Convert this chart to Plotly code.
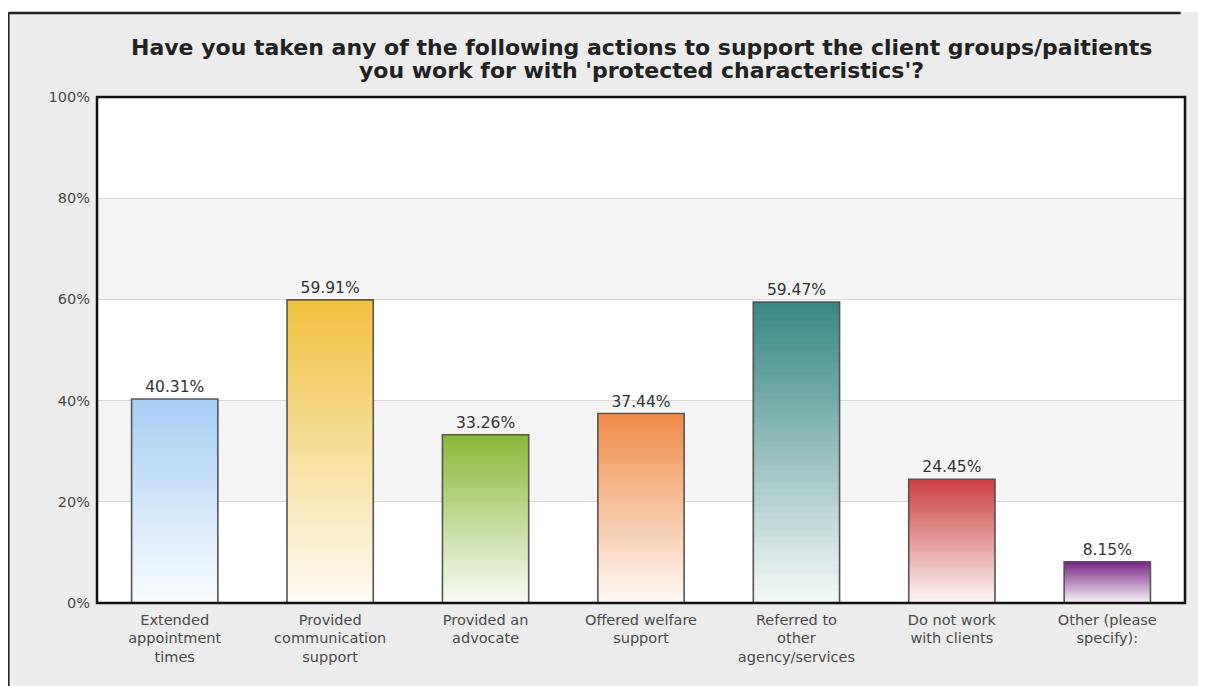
import plotly.graph_objects as go

categories = ["Extended<br>appointment<br>times", "Provided<br>communication<br>support",
              "Provided an<br>advocate", "Offered welfare<br>support",
              "Referred to<br>other<br>agency/services", "Do not work<br>with clients",
              "Other (please<br>specify):"]
values = [40.31, 59.91, 33.26, 37.44, 59.47, 24.45, 8.15]
labels = ["40.31%", "59.91%", "33.26%", "37.44%", "59.47%", "24.45%", "8.15%"]
top_colors = ["#a6cef5", "#f0c040", "#8ab838", "#f08c48", "#378784", "#cc4040", "#782484"]
y_ticks = [0, 20, 40, 60, 80, 100]
y_tick_text = ["0%", "20%", "40%", "60%", "80%", "100%"]

title_line1 = "Have you taken any of the following actions to support the client groups/paitients"
title_line2 = "you work for with 'protected characteristics'?"

FONT = "DejaVu Sans"
N = 50
BOTTOM_FADE = 0.95


def hex2rgb(h):
    h = h.lstrip("#")
    return tuple(int(h[i:i + 2], 16) for i in (0, 2, 4))


def mix(c, t):
    r, g, b = hex2rgb(c)
    return "rgb(%d,%d,%d)" % (round(r + (255 - r) * t), round(g + (255 - g) * t), round(b + (255 - b) * t))


xs = list(range(len(categories)))
BW = 0.555
fig = go.Figure()

for k in range(N):
    frac_mid = (k + 0.5) / N
    t = BOTTOM_FADE * (1 - frac_mid)
    bases = [v * k / N for v in values]
    heights = [min(v / N + 0.3, v - b) for v, b in zip(values, bases)]
    fig.add_trace(go.Bar(
        x=xs, y=heights, base=bases, width=BW,
        marker=dict(color=[mix(c, t) for c in top_colors], line=dict(width=0)),
        showlegend=False, hoverinfo="skip",
    ))

fig.add_trace(go.Bar(
    x=xs, y=values, base=[0] * len(values), width=BW,
    marker=dict(color="rgba(0,0,0,0)", line=dict(color="#555555", width=1.6)),
    text=labels, textposition="outside", cliponaxis=False,
    textfont=dict(family=FONT, size=15.5, color="#333333"),
    showlegend=False,
))

shapes = []
for y0, y1 in [(20, 40), (60, 80)]:
    shapes.append(dict(type="rect", xref="paper", yref="y", x0=0, x1=1, y0=y0, y1=y1,
                       fillcolor="#f4f4f4", line=dict(width=0), layer="below"))
shapes.append(dict(type="rect", xref="paper", yref="paper", x0=-0.2, x1=1.2, y0=1.168, y1=1.3,
                   fillcolor="white", line=dict(width=0), layer="below"))
shapes.append(dict(type="rect", xref="paper", yref="paper", x0=-0.2, x1=-0.0815, y0=-0.3, y1=1.3,
                   fillcolor="white", line=dict(width=0), layer="below"))
shapes.append(dict(type="line", xref="paper", yref="paper", x0=-0.0815, x1=0.996, y0=1.166, y1=1.166,
                   line=dict(color="#222222", width=2.5)))
shapes.append(dict(type="line", xref="paper", yref="paper", x0=-0.0815, x1=-0.0815, y0=-0.3, y1=1.166,
                   line=dict(color="#222222", width=2.5)))
shapes.append(dict(type="rect", xref="paper", yref="paper", x0=0, x1=1, y0=0, y1=1,
                   line=dict(color="#111111", width=2.5)))

annotations = [
    dict(text="<b>" + title_line1 + "</b>", xref="paper", yref="paper", x=0.5, y=(595 - 40) / 506,
         xanchor="center", yanchor="middle", showarrow=False,
         font=dict(family=FONT, size=22, color="#222222")),
    dict(text="<b>" + title_line2 + "</b>", xref="paper", yref="paper", x=0.5, y=(595 - 62) / 506,
         xanchor="center", yanchor="middle", showarrow=False,
         font=dict(family=FONT, size=22, color="#222222")),
]

fig.update_layout(
    width=1206, height=686,
    margin=dict(l=89, r=29, t=89, b=91),
    paper_bgcolor="#ececec",
    plot_bgcolor="white",
    barmode="overlay",
    font=dict(family=FONT),
    shapes=shapes,
    annotations=annotations,
    xaxis=dict(tickmode="array", tickvals=xs, ticktext=categories, range=[-0.5, 6.5],
               showgrid=False, zeroline=False, ticks="", ticklabelstandoff=6,
               tickfont=dict(family=FONT, size=14.5, color="#4a4a4a")),
    yaxis=dict(range=[0, 100], tickmode="array", tickvals=y_ticks, ticktext=y_tick_text,
               showgrid=True, gridcolor="#d9d9d9", gridwidth=1.2, zeroline=False,
               ticklabelstandoff=6,
               tickfont=dict(family=FONT, size=14.5, color="#4a4a4a"), ticks=""),
)

fig.write_html("out.html")
